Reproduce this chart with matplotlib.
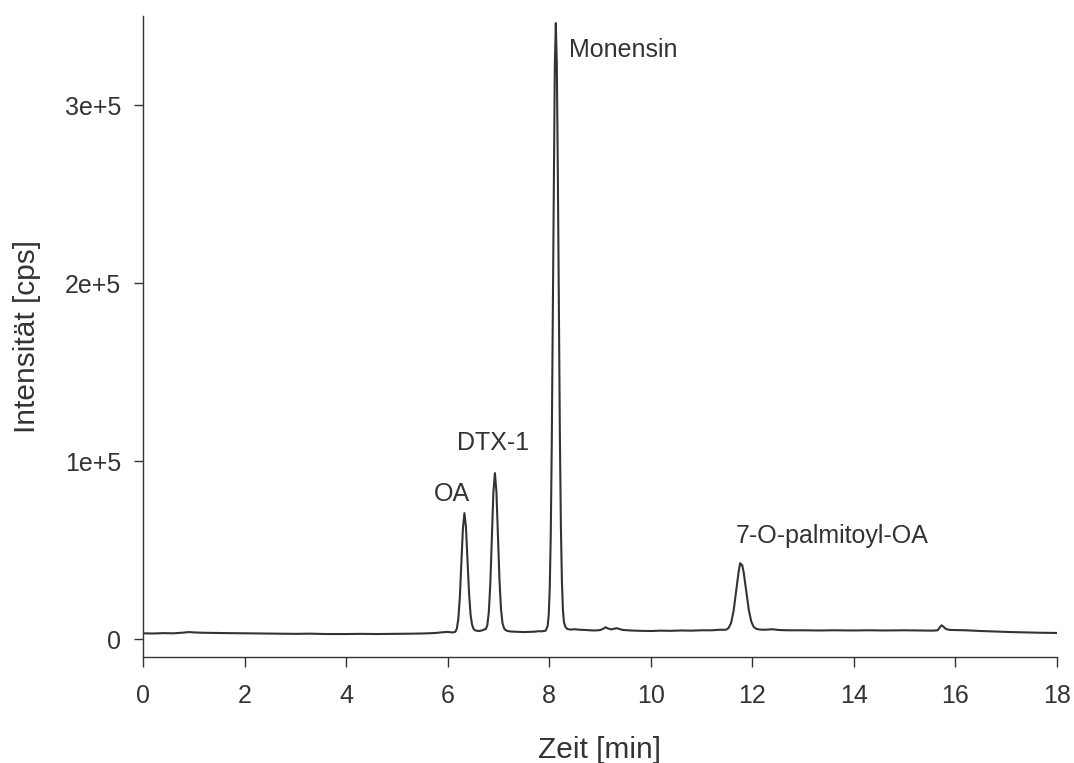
import matplotlib.pyplot as plt

plt.rcParams["font.family"] = ["Liberation Sans", "DejaVu Sans"]

INK = "#333333"

# retention time [min] and detector signal [cps], read point by point
time_min = [
    0.0, 0.2, 0.4, 0.6, 0.8, 0.9, 1.0, 1.2, 1.4, 1.7,
    2.0, 2.3, 2.6, 3.0, 3.3, 3.6, 4.0, 4.3, 4.6, 5.0,
    5.3, 5.5, 5.7, 5.8, 5.9, 6.0, 6.05, 6.1,
    # OA
    6.12, 6.15, 6.18, 6.21, 6.24, 6.27, 6.30, 6.33, 6.36, 6.39,
    6.42, 6.45, 6.48, 6.51, 6.54, 6.58, 6.62, 6.66, 6.70, 6.73,
    # DTX-1
    6.75, 6.78, 6.81, 6.84, 6.87, 6.90, 6.93, 6.96, 6.99, 7.02,
    7.05, 7.08, 7.11, 7.14, 7.18, 7.25, 7.35, 7.5, 7.6, 7.7,
    7.8, 7.85,
    # Monensin
    7.93, 7.97, 7.99, 8.01, 8.03, 8.05, 8.07, 8.09, 8.11, 8.13,
    8.15, 8.17, 8.19, 8.21, 8.23, 8.25, 8.27, 8.29, 8.32, 8.36,
    8.42, 8.5, 8.6, 8.7, 8.8, 8.9, 9.0, 9.06, 9.11, 9.16,
    9.22, 9.28, 9.33, 9.38, 9.45, 9.6, 9.8, 10.0, 10.2, 10.4,
    10.6, 10.8, 11.0, 11.2, 11.35,
    # 7-O-palmitoyl-OA
    11.48, 11.53, 11.58, 11.63, 11.68, 11.73, 11.76, 11.78, 11.80, 11.83,
    11.88, 11.93, 11.98, 12.03, 12.08, 12.15, 12.25, 12.4, 12.5, 12.7,
    13.0, 13.3, 13.6, 14.0, 14.3, 14.6, 15.0, 15.3, 15.55, 15.65,
    15.70, 15.73, 15.77, 15.82, 15.9, 16.2, 16.5, 16.8, 17.1, 17.4,
    17.7, 18.0,
]
intensity_cps = [
    3300, 3200, 3400, 3300, 3700, 4000, 3800, 3600, 3500, 3400,
    3300, 3200, 3100, 3000, 3100, 2900, 2900, 3000, 2900, 3000,
    3100, 3200, 3400, 3600, 3900, 4100, 3900, 3800,
    3900, 4100, 5900, 11400, 23600, 42800, 62100, 70800, 63000, 45000,
    26500, 14000, 8200, 5800, 5000, 4700, 4600, 4800, 5200, 5600,
    5600, 7700, 15000, 31100, 56500, 82200, 93300, 83000, 58500, 33500,
    17000, 9000, 6200, 5100, 4600, 4300, 4200, 4000, 4100, 4200,
    4500, 4400,
    4800, 7500, 13600, 28300, 58200, 109100, 180000, 258500, 321700, 346000,
    322500, 261000, 184000, 114000, 63000, 32500, 16500, 9500, 6800, 5700,
    5400, 5600, 5300, 5200, 5000, 4900, 5100, 5800, 6700, 6000,
    5500, 5900, 6200, 5700, 5200, 4900, 4700, 4600, 4800, 4700,
    4900, 4800, 5000, 5000, 5300,
    5300, 6200, 9000, 15700, 26600, 37800, 42700, 42000, 41700, 37500,
    27000, 16500, 9800, 6800, 5800, 5400, 5300, 5600, 5200, 5000,
    5000, 4900, 5000, 4900, 5000, 4900, 5000, 4900, 4800, 5000,
    7000, 7800, 6800, 5600, 5200, 5000, 4600, 4300, 4000, 3800,
    3600, 3500,
]

peak_names = ["OA", "DTX-1", "Monensin", "7-O-palmitoyl-OA"]
label_x = [6.085, 6.90, 8.39, 13.58]
label_y = [77500, 106200, 327000, 53900]
label_ha = ["center", "center", "left", "center"]

x_ticks = [0, 2, 4, 6, 8, 10, 12, 14, 16, 18]
y_ticks = [0, 100000, 200000, 300000]
y_tick_labels = ["0", "1e+5", "2e+5", "3e+5"]

fig = plt.figure(figsize=(10.74, 7.63), dpi=100)
ax = fig.add_axes([143 / 1074, 106 / 763, 914 / 1074, 641 / 763])

ax.plot(time_min, intensity_cps, color=INK, linewidth=1.5)

for name, x, y, ha in zip(peak_names, label_x, label_y, label_ha):
    ax.text(x, y, name, ha=ha, va="baseline", fontsize=18, color=INK)

ax.set_xlim(0, 18)
ax.set_ylim(-10000, 350000)
ax.set_xticks(x_ticks)
ax.set_yticks(y_ticks)
ax.set_yticklabels(y_tick_labels)

ax.spines["top"].set_visible(False)
ax.spines["right"].set_visible(False)
for side in ("left", "bottom"):
    ax.spines[side].set_color(INK)
    ax.spines[side].set_linewidth(1.0)

ax.tick_params(axis="x", length=7, width=1.0, color=INK, labelcolor=INK,
               labelsize=18, pad=12.5)
ax.tick_params(axis="y", length=6.5, width=1.0, color=INK, labelcolor=INK,
               labelsize=18, pad=9)

ax.set_xlabel("Zeit [min]", fontsize=21.5, color=INK, labelpad=20)
ax.set_ylabel("Intensität [cps]", fontsize=21.5, color=INK, labelpad=17)

fig.savefig("out.png", dpi=100)
